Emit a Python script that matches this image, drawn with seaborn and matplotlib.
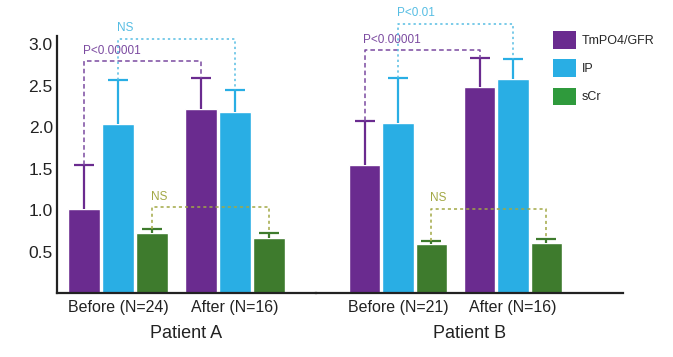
import numpy as np
import pandas as pd
import seaborn as sns
import matplotlib.pyplot as plt
from matplotlib.patches import Patch

# values
measures = ["TmPO4/GFR", "IP", "sCr"]
groups_a = ["Before (N=24)", "After (N=16)"]
groups_b = ["Before (N=21)", "After (N=16)"]

tmpo4_a = [1.01, 2.22]
ip_a = [2.04, 2.19]
scr_a = [0.72, 0.67]
tmpo4_a_err = [0.54, 0.37]
ip_a_err = [0.53, 0.26]
scr_a_err = [0.05, 0.06]

tmpo4_b = [1.54, 2.48]
ip_b = [2.05, 2.58]
scr_b = [0.59, 0.61]
tmpo4_b_err = [0.53, 0.36]
ip_b_err = [0.54, 0.24]
scr_b_err = [0.04, 0.04]

# significance brackets (before vs after), one per measure
labels_a = ["P<0.00001", "NS", "NS"]
heights_a = [2.80, 3.07, 1.04]
labels_b = ["P<0.00001", "P<0.01", "NS"]
heights_b = [2.93, 3.25, 1.02]

colors = ["#6a2b8f", "#29aee4", "#3e7b2d"]
legend_colors = ["#6a2b8f", "#29aee4", "#2f9a3c"]
bracket_colors = ["#7b4aa0", "#56bde3", "#a2a845"]
bracket_styles = [(0, (3, 2)), (0, (1.5, 2)), (0, (2, 2))]

sns.set_style("white")
plt.rcParams["font.family"] = ["Liberation Sans", "DejaVu Sans"]

fig = plt.figure(figsize=(6.73, 3.57), dpi=100)
ax_a = fig.add_axes([0.0847, 0.179, 0.3848, 0.72])
ax_b = fig.add_axes([0.4695, 0.179, 0.4562, 0.72])


def draw_patient(ax, groups, vals, errs, labels, heights, xlabel, xlim):
    df = pd.DataFrame({
        "group": np.tile(groups, len(measures)),
        "measure": np.repeat(measures, len(groups)),
        "value": np.concatenate(vals),
    })
    sns.barplot(data=df, x="group", y="value", hue="measure", order=groups,
                hue_order=measures, palette=colors, width=0.87, gap=0.06,
                errorbar=None, legend=False, saturation=1, ax=ax)
    bar_sets = list(ax.containers)
    for i, cont in enumerate(bar_sets):
        xs = [b.get_x() + b.get_width() / 2 for b in cont]
        v = np.array(vals[i])
        e = np.array(errs[i])
        tops = v + e
        # one-sided (upper) error bars with a cap
        ax.vlines(xs, v, tops, color=colors[i], lw=1.6, zorder=3)
        ax.plot(xs, tops, ls="none", marker="_", ms=15, mew=1.6,
                color=colors[i], zorder=3)
        # bracket from before to after
        h = heights[i]
        ax.plot([xs[0], xs[0], xs[1], xs[1]], [tops[0], h, h, tops[1]],
                color=bracket_colors[i], lw=1.1, ls=bracket_styles[i],
                clip_on=False, zorder=4)
        ax.text(xs[0] - 0.01, h + 0.05, labels[i], color=bracket_colors[i],
                fontsize=8.5, ha="left", va="bottom", clip_on=False)
    ax.set_xlim(*xlim)
    ax.set_ylim(0, 3.1)
    ax.set_xlabel(xlabel, fontsize=13, labelpad=7, color="#222222")
    ax.set_ylabel("")
    ax.tick_params(axis="x", length=0, pad=5, labelsize=11.5, labelcolor="#222222")


draw_patient(ax_a, groups_a, [tmpo4_a, ip_a, scr_a],
             [tmpo4_a_err, ip_a_err, scr_a_err], labels_a, heights_a,
             "Patient A", (-0.521, 1.692))
draw_patient(ax_b, groups_b, [tmpo4_b, ip_b, scr_b],
             [tmpo4_b_err, ip_b_err, scr_b_err], labels_b, heights_b,
             "Patient B", (-0.713, 1.957))

# axis styling
ax_a.set_yticks([0.5, 1.0, 1.5, 2.0, 2.5, 3.0])
ax_a.set_yticklabels(["0.5", "1.0", "1.5", "2.0", "2.5", "3.0"])
ax_a.tick_params(axis="y", length=0, pad=3, labelsize=12.5, labelcolor="#222222")
ax_b.set_yticks([])
for ax in (ax_a, ax_b):
    for s in ("top", "right"):
        ax.spines[s].set_visible(False)
    ax.spines["bottom"].set_color("#222222")
    ax.spines["bottom"].set_linewidth(1.6)
    ax.patch.set_alpha(0)
ax_a.spines["left"].set_color("#222222")
ax_a.spines["left"].set_linewidth(1.6)
ax_b.spines["left"].set_visible(False)

handles = [Patch(facecolor=c, edgecolor="none") for c in legend_colors]
fig.legend(handles, measures, loc="upper left", bbox_to_anchor=(0.805, 0.945),
           frameon=False, fontsize=9, handlelength=1.8, handleheight=1.8,
           handletextpad=0.5, labelspacing=0.85)

fig.savefig("out.png", dpi=100)
